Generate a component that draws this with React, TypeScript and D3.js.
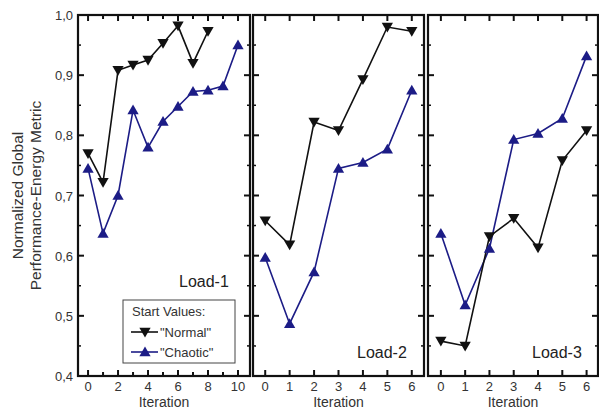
import React, { useEffect, useRef } from "react";
import * as d3 from "d3";

const load1Normal = [0.77, 0.722, 0.908, 0.917, 0.925, 0.953, 0.982, 0.92, 0.973];
const load1Chaotic = [0.745, 0.637, 0.7, 0.842, 0.78, 0.823, 0.848, 0.873, 0.875, 0.882, 0.95];
const load2Normal = [0.658, 0.618, 0.822, 0.808, 0.893, 0.98, 0.973];
const load2Chaotic = [0.597, 0.487, 0.573, 0.745, 0.755, 0.777, 0.875];
const load3Normal = [0.458, 0.45, 0.632, 0.662, 0.613, 0.758, 0.808];
const load3Chaotic = [0.637, 0.518, 0.612, 0.793, 0.803, 0.828, 0.932];

const panelNames = ["Load-1", "Load-2", "Load-3"];
const yTicks = [0.4, 0.5, 0.6, 0.7, 0.8, 0.9, 1.0];
const legendTitle = "Start Values:";
const seriesNames = ['"Normal"', '"Chaotic"'];

const BLACK = "#111";
const BLUE = "#1c1c86";
const TEXT = "#333";

function Chart() {
  const ref = useRef<SVGSVGElement>(null);

  useEffect(() => {
    document.body.style.margin = "0";
    document.body.style.overflow = "hidden";

    const svg = d3.select(ref.current);
    svg.selectAll("*").remove();

    const top = 15;
    const bottom = 376;
    const y = d3.scaleLinear().domain([0.4, 1.0]).range([bottom, top]);

    const panels = [
      { name: panelNames[0], normal: load1Normal, chaotic: load1Chaotic, domain: [-0.67, 10.8], x0: 78, x1: 250, labels: [0, 2, 4, 6, 8, 10], ticks: d3.range(0, 11), labelX: 179, labelY: 287 },
      { name: panelNames[1], normal: load2Normal, chaotic: load2Chaotic, domain: [-0.5, 6.5], x0: 253, x1: 424, labels: d3.range(0, 7), ticks: d3.range(0, 7), labelX: 357, labelY: 358 },
      { name: panelNames[2], normal: load3Normal, chaotic: load3Chaotic, domain: [-0.53, 6.47], x0: 428, x1: 598, labels: d3.range(0, 7), ticks: d3.range(0, 7), labelX: 532, labelY: 358 },
    ];

    const minorY = d3.range(0.45, 1.0, 0.1);
    const tri = d3.symbol().type(d3.symbolTriangle).size(55);

    panels.forEach((p) => {
      const x = d3.scaleLinear().domain(p.domain).range([p.x0, p.x1]);
      const g = svg.append("g");

      // inward ticks on all four sides
      yTicks.forEach((t) => {
        g.append("line").attr("x1", p.x0).attr("x2", p.x0 + 6).attr("y1", y(t)).attr("y2", y(t)).attr("stroke", BLACK).attr("stroke-width", 2);
        g.append("line").attr("x1", p.x1).attr("x2", p.x1 - 6).attr("y1", y(t)).attr("y2", y(t)).attr("stroke", BLACK).attr("stroke-width", 2);
      });
      minorY.forEach((t) => {
        g.append("line").attr("x1", p.x0).attr("x2", p.x0 + 3).attr("y1", y(t)).attr("y2", y(t)).attr("stroke", BLACK).attr("stroke-width", 1.5);
        g.append("line").attr("x1", p.x1).attr("x2", p.x1 - 3).attr("y1", y(t)).attr("y2", y(t)).attr("stroke", BLACK).attr("stroke-width", 1.5);
      });
      p.ticks.forEach((t) => {
        const len = p.labels.includes(t) ? 6 : 4;
        g.append("line").attr("x1", x(t)).attr("x2", x(t)).attr("y1", bottom).attr("y2", bottom - len).attr("stroke", BLACK).attr("stroke-width", 2);
        g.append("line").attr("x1", x(t)).attr("x2", x(t)).attr("y1", top).attr("y2", top + len).attr("stroke", BLACK).attr("stroke-width", 2);
      });

      g.append("rect")
        .attr("x", p.x0).attr("y", top)
        .attr("width", p.x1 - p.x0).attr("height", bottom - top)
        .attr("fill", "none").attr("stroke", BLACK).attr("stroke-width", 2.2);

      g.selectAll(".xl").data(p.labels).enter().append("text")
        .attr("x", (d) => x(d)).attr("y", 391)
        .attr("text-anchor", "middle").attr("font-size", 13).attr("fill", TEXT)
        .text((d) => String(d));

      g.append("text")
        .attr("x", (p.x0 + p.x1) / 2).attr("y", 407)
        .attr("text-anchor", "middle").attr("font-size", 14).attr("fill", TEXT)
        .text("Iteration");

      g.append("text")
        .attr("x", p.labelX).attr("y", p.labelY)
        .attr("font-size", 16).attr("fill", "#222")
        .text(p.name);

      const line = d3.line<number>().x((_, i) => x(i)).y((d) => y(d));

      g.append("path").datum(p.chaotic).attr("d", line).attr("fill", "none").attr("stroke", BLUE).attr("stroke-width", 1.6);
      g.append("path").datum(p.normal).attr("d", line).attr("fill", "none").attr("stroke", BLACK).attr("stroke-width", 1.6);

      g.selectAll(".cm").data(p.chaotic).enter().append("path")
        .attr("d", tri)
        .attr("transform", (d, i) => `translate(${x(i)},${y(d) + 1})`)
        .attr("fill", BLUE);
      g.selectAll(".nm").data(p.normal).enter().append("path")
        .attr("d", tri)
        .attr("transform", (d, i) => `translate(${x(i)},${y(d) - 1}) rotate(180)`)
        .attr("fill", BLACK);
    });

    // y tick labels, comma decimals
    svg.selectAll(".yl").data(yTicks).enter().append("text")
      .attr("x", 73).attr("y", (d) => y(d) + 5)
      .attr("text-anchor", "end").attr("font-size", 13).attr("fill", TEXT)
      .text((d) => d3.format(".1f")(d).replace(".", ","));

    const yl = svg.append("text")
      .attr("transform", `translate(23,${(top + bottom) / 2}) rotate(-90)`)
      .attr("text-anchor", "middle").attr("font-size", 15.5).attr("fill", TEXT);
    yl.append("tspan").attr("x", 0).attr("dy", 0).text("Normalized Global");
    yl.append("tspan").attr("x", 0).attr("dy", 18).text("Performance-Energy Metric");

    // legend
    const lg = svg.append("g");
    lg.append("rect").attr("x", 123).attr("y", 300).attr("width", 112).attr("height", 63)
      .attr("fill", "#fff").attr("stroke", "#444").attr("stroke-width", 1);
    lg.append("text").attr("x", 132).attr("y", 316).attr("font-size", 13).attr("fill", TEXT).text(legendTitle);
    [BLACK, BLUE].forEach((c, i) => {
      const ly = 332 + i * 20;
      lg.append("line").attr("x1", 131).attr("x2", 158).attr("y1", ly).attr("y2", ly).attr("stroke", c).attr("stroke-width", 1.6);
      lg.append("path").attr("d", tri)
        .attr("transform", i === 0 ? `translate(145,${ly - 1}) rotate(180)` : `translate(145,${ly + 1})`)
        .attr("fill", c);
      lg.append("text").attr("x", 160).attr("y", ly + 5).attr("font-size", 13).attr("fill", TEXT).text(seriesNames[i]);
    });
  }, []);

  return (
    <svg ref={ref} width={599} height={410} style={{ display: "block", fontFamily: "Arial, 'Liberation Sans', sans-serif" }} />
  );
}

export default function App() {
  return <Chart />;
}
